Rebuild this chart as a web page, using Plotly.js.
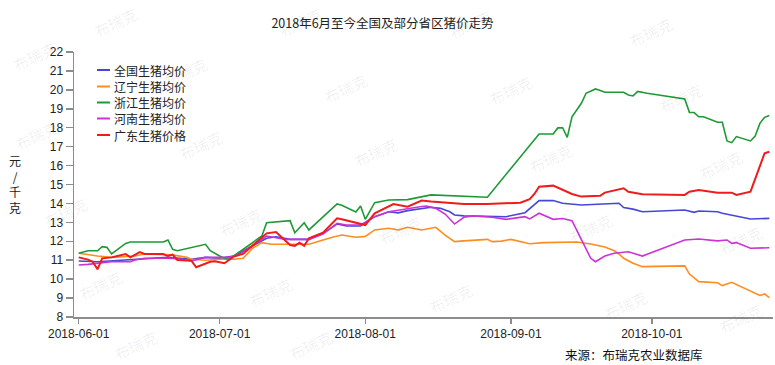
<!DOCTYPE html>
<html>
<head>
<meta charset="utf-8">
<script src="https://cdn.plot.ly/plotly-3.0.1.min.js"></script>
<style>html,body{margin:0;padding:0;background:#fff;}#chart{width:775px;height:365px;}</style>
</head>
<body>
<div id="chart"></div>
<script>
// ---- Data ----
const seriesNames = ["全国生猪均价", "辽宁生猪均价", "浙江生猪均价", "河南生猪均价", "广东生猪价格"];

const nationalDates = ["2018-06-01","2018-06-05","2018-06-10","2018-06-14","2018-06-20","2018-06-25","2018-06-28","2018-07-01","2018-07-04","2018-07-11","2018-07-13","2018-07-16","2018-07-20","2018-07-23","2018-07-26","2018-07-28","2018-07-31","2018-08-03","2018-08-06","2018-08-08","2018-08-10","2018-08-15","2018-08-17","2018-08-19","2018-08-20","2018-08-22","2018-08-28","2018-08-31","2018-09-04","2018-09-07","2018-09-10","2018-09-12","2018-09-16","2018-09-24","2018-09-25","2018-09-27","2018-09-29","2018-10-08","2018-10-10","2018-10-11","2018-10-15","2018-10-16","2018-10-22","2018-10-24","2018-10-26"];
const nationalPrice = [10.96,10.92,11.0,11.05,11.15,11.05,11.15,11.1,11.22,12.16,12.24,12.1,12.1,12.42,12.91,12.81,12.81,13.3,13.56,13.5,13.62,13.8,13.74,13.56,13.39,13.34,13.3,13.3,13.51,14.15,14.15,14.01,13.92,14.01,13.78,13.7,13.56,13.65,13.53,13.6,13.56,13.48,13.18,13.21,13.21];

const liaoningDates = ["2018-06-01","2018-06-05","2018-06-08","2018-06-13","2018-06-15","2018-06-21","2018-06-24","2018-06-25","2018-06-28","2018-07-01","2018-07-04","2018-07-06","2018-07-08","2018-07-10","2018-07-12","2018-07-20","2018-07-25","2018-07-27","2018-07-30","2018-08-01","2018-08-03","2018-08-06","2018-08-08","2018-08-10","2018-08-13","2018-08-16","2018-08-18","2018-08-20","2018-08-22","2018-08-27","2018-08-28","2018-08-30","2018-09-01","2018-09-05","2018-09-08","2018-09-14","2018-09-15","2018-09-18","2018-09-21","2018-09-23","2018-09-24","2018-09-25","2018-09-27","2018-09-29","2018-10-08","2018-10-09","2018-10-11","2018-10-15","2018-10-16","2018-10-18","2018-10-22","2018-10-24","2018-10-25","2018-10-26"];
const liaoningPrice = [11.37,11.22,11.15,11.22,11.33,11.28,11.15,11.05,11.0,11.05,11.05,11.1,11.63,11.93,11.84,11.84,12.21,12.33,12.21,12.26,12.6,12.69,12.6,12.74,12.6,12.74,12.33,11.98,12.02,12.1,11.98,12.01,12.1,11.87,11.93,11.93,11.96,11.86,11.7,11.5,11.33,11.1,10.84,10.66,10.7,10.27,9.87,9.81,9.66,9.83,9.39,9.14,9.22,9.02];

const zhejiangDates = ["2018-06-01","2018-06-03","2018-06-05","2018-06-06","2018-06-07","2018-06-08","2018-06-11","2018-06-12","2018-06-19","2018-06-20","2018-06-21","2018-06-22","2018-06-28","2018-06-29","2018-07-01","2018-07-02","2018-07-03","2018-07-10","2018-07-11","2018-07-16","2018-07-17","2018-07-19","2018-07-20","2018-07-26","2018-07-27","2018-07-30","2018-07-31","2018-08-01","2018-08-03","2018-08-06","2018-08-10","2018-08-15","2018-08-27","2018-09-07","2018-09-10","2018-09-11","2018-09-12","2018-09-13","2018-09-14","2018-09-16","2018-09-17","2018-09-19","2018-09-20","2018-09-21","2018-09-25","2018-09-26","2018-09-27","2018-09-28","2018-09-30","2018-10-08","2018-10-09","2018-10-10","2018-10-11","2018-10-12","2018-10-15","2018-10-16","2018-10-17","2018-10-18","2018-10-19","2018-10-22","2018-10-23","2018-10-24","2018-10-25","2018-10-26"];
const zhejiangPrice = [11.37,11.5,11.5,11.72,11.68,11.33,11.89,11.96,11.96,12.07,11.58,11.5,11.84,11.5,11.22,11.1,11.05,12.28,12.98,13.09,12.45,12.98,12.6,13.97,13.9,13.55,13.86,13.16,14.04,14.18,14.2,14.45,14.33,17.67,17.67,17.99,18.0,17.49,18.58,19.29,19.82,20.05,19.97,19.87,19.87,19.73,19.68,19.92,19.82,19.52,18.81,18.8,18.58,18.58,18.29,18.29,17.3,17.21,17.53,17.3,17.56,18.23,18.55,18.64];

const henanDates = ["2018-06-01","2018-06-03","2018-06-08","2018-06-12","2018-06-13","2018-06-15","2018-06-20","2018-06-23","2018-06-25","2018-06-28","2018-07-03","2018-07-05","2018-07-11","2018-07-15","2018-07-20","2018-07-23","2018-07-26","2018-07-28","2018-07-31","2018-08-03","2018-08-06","2018-08-08","2018-08-10","2018-08-13","2018-08-14","2018-08-16","2018-08-18","2018-08-20","2018-08-22","2018-08-24","2018-08-28","2018-08-31","2018-09-04","2018-09-05","2018-09-07","2018-09-10","2018-09-12","2018-09-14","2018-09-18","2018-09-19","2018-09-21","2018-09-23","2018-09-26","2018-09-29","2018-10-08","2018-10-11","2018-10-15","2018-10-17","2018-10-18","2018-10-19","2018-10-22","2018-10-26"];
const henanPrice = [10.75,10.78,10.92,10.92,11.01,11.1,11.1,11.05,10.96,11.15,11.15,11.28,12.28,12.1,12.1,12.38,12.95,12.86,12.86,13.3,13.56,13.65,13.74,13.84,13.86,13.74,13.44,12.91,13.27,13.34,13.27,13.16,13.3,13.18,13.48,13.16,13.2,13.09,11.1,10.92,11.22,11.37,11.45,11.22,12.07,12.12,12.02,12.07,11.89,11.93,11.63,11.66];

const guangdongDates = ["2018-06-01","2018-06-03","2018-06-04","2018-06-05","2018-06-06","2018-06-08","2018-06-11","2018-06-12","2018-06-14","2018-06-15","2018-06-19","2018-06-20","2018-06-21","2018-06-22","2018-06-25","2018-06-26","2018-06-29","2018-06-30","2018-07-02","2018-07-04","2018-07-06","2018-07-11","2018-07-13","2018-07-16","2018-07-17","2018-07-18","2018-07-19","2018-07-20","2018-07-23","2018-07-26","2018-07-27","2018-07-30","2018-08-01","2018-08-03","2018-08-06","2018-08-07","2018-08-10","2018-08-13","2018-08-15","2018-08-22","2018-08-27","2018-09-03","2018-09-05","2018-09-06","2018-09-07","2018-09-10","2018-09-14","2018-09-16","2018-09-20","2018-09-21","2018-09-25","2018-09-26","2018-09-29","2018-10-08","2018-10-09","2018-10-11","2018-10-15","2018-10-18","2018-10-19","2018-10-22","2018-10-23","2018-10-24","2018-10-25","2018-10-26"];
const guangdongPrice = [11.15,11.03,10.92,10.52,11.1,11.15,11.33,11.15,11.43,11.33,11.33,11.22,11.3,11.01,10.97,10.63,10.92,10.94,10.84,11.19,11.33,12.42,12.49,11.8,11.76,11.93,11.76,12.16,12.45,13.21,13.16,12.98,12.86,13.48,13.86,13.97,13.83,14.15,14.1,13.97,13.97,14.04,14.22,14.5,14.88,14.94,14.5,14.36,14.4,14.57,14.8,14.62,14.48,14.45,14.62,14.71,14.57,14.57,14.45,14.62,15.3,16.0,16.65,16.73];

const seriesColors = ["#4646d8", "#ff8c1e", "#1e9a35", "#cc33d6", "#ee1c1c"];
const chartTitle = "2018年6月至今全国及部分省区猪价走势";
const sourceText = "来源：布瑞克农业数据库";
const yTitleChars = ["元", "/", "千", "克"];
const watermarkText = "布瑞克";

// ---- Layout helpers (pixel -> paper) ----
const L = 74, R = 773, T = 52, B = 317;
const px = x => (x - L) / (R - L);
const py = y => (B - y) / (B - T);

const allDates = [nationalDates, liaoningDates, zhejiangDates, henanDates, guangdongDates];
const allPrices = [nationalPrice, liaoningPrice, zhejiangPrice, henanPrice, guangdongPrice];
const widths = [1.6, 1.6, 1.6, 1.6, 2];

const traces = seriesNames.map((n, i) => ({
  type: "scatter", mode: "lines", name: n,
  x: allDates[i], y: allPrices[i],
  line: {color: seriesColors[i], width: widths[i]},
  hoverinfo: "skip", showlegend: false
}));

const cjk = "Noto Sans CJK SC, Liberation Sans, sans-serif";
const shapes = [];
const annotations = [];

// custom legend
const legendY = [70, 86.5, 102.5, 118.5, 135];
seriesNames.forEach((n, i) => {
  shapes.push({type: "line", xref: "paper", yref: "paper",
    x0: px(97), x1: px(110), y0: py(legendY[i]), y1: py(legendY[i]),
    line: {color: seriesColors[i], width: 2}});
  annotations.push({xref: "paper", yref: "paper", x: px(113), y: py(legendY[i]),
    xanchor: "left", yanchor: "middle", showarrow: false, text: n, borderpad: 0,
    font: {family: cjk, size: 12, color: "#222"}});
});

// y-axis title, stacked vertically in one text block
annotations.push({xref: "paper", yref: "paper", x: px(15), y: py(184),
  xanchor: "center", yanchor: "middle", showarrow: false, text: yTitleChars.join("<br>"),
  align: "center", font: {family: cjk, size: 12, color: "#222"}, borderpad: 0});

// source
annotations.push({xref: "paper", yref: "paper", x: px(634), y: py(354),
  xanchor: "center", yanchor: "middle", showarrow: false, text: sourceText,
  font: {family: cjk, size: 12.5, color: "#111"}, borderpad: 0});

// watermarks
const wm = [[115,22],[300,22],[470,24],[650,32],[34,56],[185,72],[345,88],[510,90],[680,98],
  [36,135],[200,145],[375,152],[550,158],[720,165],[65,212],[240,222],[400,230],[590,228],[740,240],
  [100,285],[270,292],[450,298],[625,305],[740,318],[135,345],[310,345]];
wm.forEach(p => {
  annotations.push({xref: "paper", yref: "paper", x: px(p[0]), y: py(p[1]),
    xanchor: "center", yanchor: "middle", showarrow: false, text: watermarkText, textangle: -25,
    font: {family: cjk, size: 15, color: "rgba(0,0,0,0.07)"}});
});

const layout = {
  width: 775, height: 365,
  margin: {l: L, r: 775 - R, t: T, b: 365 - B},
  paper_bgcolor: "#fff", plot_bgcolor: "#fff",
  font: {family: "Liberation Sans, " + cjk, size: 12, color: "#222"},
  title: {text: chartTitle, x: 382.5 / 775, xref: "container", xanchor: "center",
    y: 1 - 24 / 365, yref: "container", yanchor: "middle",
    font: {family: cjk, size: 12.5, color: "#222"}},
  xaxis: {
    type: "date", range: ["2018-05-31", "2018-10-26 19:00"],
    tick0: "2018-06-01", dtick: "M1", tickformat: "%Y-%m-%d",
    showgrid: false, zeroline: false, showline: true, linecolor: "#8c8c8c", linewidth: 1.5,
    ticks: "outside", ticklen: 5, tickcolor: "#8c8c8c", tickwidth: 1.5,
    tickfont: {family: "Liberation Sans", size: 12, color: "#222"}
  },
  yaxis: {
    range: [8, 22], dtick: 1, tick0: 8,
    showgrid: false, zeroline: false, showline: true, linecolor: "#8c8c8c", linewidth: 1.5,
    ticks: "outside", ticklen: 7, tickcolor: "#8c8c8c", tickwidth: 1.5,
    tickfont: {family: "Liberation Sans", size: 12, color: "#222"}
  },
  shapes: shapes,
  annotations: annotations,
  showlegend: false
};

Plotly.newPlot("chart", traces, layout, {displayModeBar: false, staticPlot: true});
</script>
</body>
</html>
